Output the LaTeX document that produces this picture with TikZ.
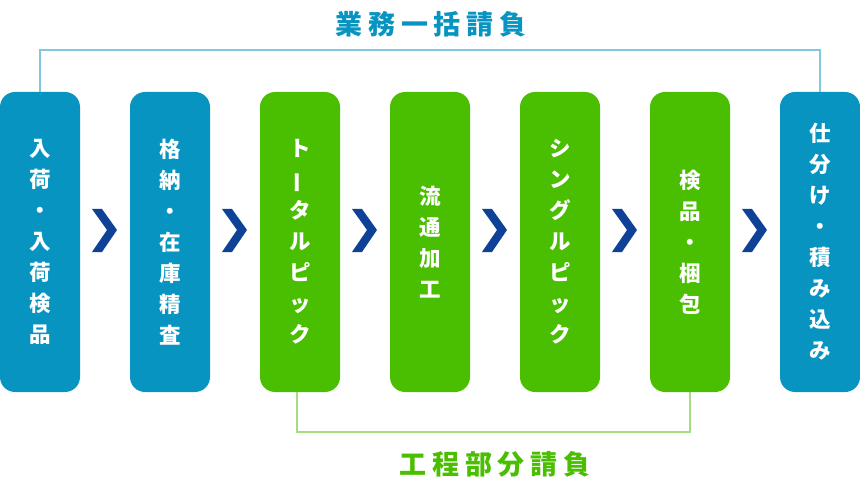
\documentclass[tikz,border=0pt]{standalone}
\usepackage{fontspec}
\setmainfont{Noto Sans CJK JP}
\usepackage{tikz}
\usetikzlibrary{positioning}
\definecolor{flowblue}{HTML}{0894C1}
\definecolor{flowgreen}{HTML}{4ABE00}
\definecolor{chevblue}{HTML}{0F4296}
\definecolor{lineblue}{HTML}{80C8DF}
\definecolor{linegreen}{HTML}{A5DE82}
\newcommand{\vchoon}{\rotatebox[origin=c]{90}{ー}}

\begin{document}
\begin{tikzpicture}[x=1pt,y=-1pt,
    stage/.style={rounded corners=15pt,minimum width=80pt,minimum height=300pt,inner sep=0pt,align=center,text=white,font=\bfseries\fontsize{21.5}{31}\selectfont},
    chev/.style={fill=chevblue},
    title/.style={font=\bfseries\fontsize{27}{30}\selectfont\addfontfeature{LetterSpace=22}}]
      \useasboundingbox (0,0) rectangle (860,484);
      \foreach \i/\col/\txt in {1/flowblue/{入\\荷\\・\\入\\荷\\検\\品},2/flowblue/{格\\納\\・\\在\\庫\\精\\査},3/flowgreen/{ト\\\vchoon\\タ\\ル\\ピ\\ッ\\ク},4/flowgreen/{流\\通\\加\\工},5/flowgreen/{シ\\ン\\グ\\ル\\ピ\\ッ\\ク},6/flowgreen/{検\\品\\・\\梱\\包},7/flowblue/{仕\\分\\け\\・\\積\\み\\込\\み}}
      { \node[stage,fill=\col] (b\i) at ({40+130*(\i-1)},242) {\txt}; }
      \foreach \i in {0,...,5} { \fill[chev] ({92+130*\i},209) -- ++(10,0) -- ++(15,21) -- ++(-15,22) -- ++(-10,0) -- ++(15,-22) -- cycle; }
      \draw[lineblue,line width=2pt] (b1.north) -- ++(0,-42) -| (b7.north);
      \draw[linegreen,line width=2pt] ([xshift=-3pt]b3.south) -- ++(0,40) -| (b6.south);
      \node[title,text=flowblue] (whole) at (431,24) {業務一括請負};
      \node[title,text=flowgreen] (part) at (495,464) {工程部分請負};
    \end{tikzpicture}
\end{document}
